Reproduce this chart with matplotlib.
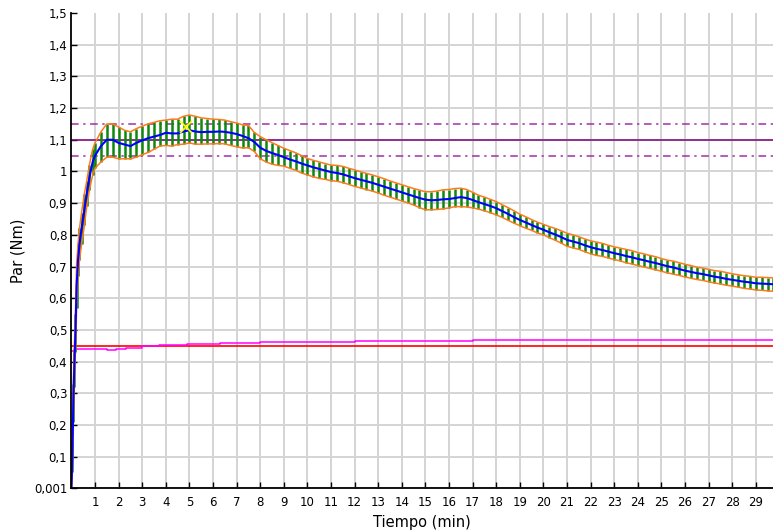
import matplotlib
matplotlib.use("Agg")
import matplotlib.pyplot as plt
import numpy as np

# ---------------- data ----------------
time_early = [0.0, 0.04, 0.08, 0.12, 0.17, 0.22, 0.28, 0.34, 0.43, 0.55, 0.65, 0.76, 0.90]
mean_early = [0.0, 0.10, 0.27, 0.38, 0.49, 0.64, 0.72, 0.77, 0.82, 0.88, 0.93, 0.98, 1.03]
hi_early = [0.0, 0.05, 0.06, 0.06, 0.06, 0.07, 0.05, 0.05, 0.05, 0.05, 0.04, 0.04, 0.04]
lo_early = [0.0, 0.05, 0.06, 0.06, 0.06, 0.07, 0.05, 0.05, 0.05, 0.05, 0.04, 0.04, 0.04]

time_main = [
    1.0, 1.25, 1.5, 1.75, 2.0, 2.25, 2.5, 2.75, 3.0, 3.25, 3.5, 3.75,
    4.0, 4.25, 4.5, 4.75, 5.0, 5.25, 5.5, 5.75, 6.0, 6.25, 6.5, 6.75,
    7.0, 7.25, 7.5, 7.75, 8.0, 8.25, 8.5, 8.75, 9.0, 9.25, 9.5, 9.75,
    10.0, 10.25, 10.5, 10.75, 11.0, 11.25, 11.5, 11.75, 12.0, 12.25, 12.5, 12.75,
    13.0, 13.25, 13.5, 13.75, 14.0, 14.25, 14.5, 14.75, 15.0, 15.25, 15.5, 15.75,
    16.0, 16.25, 16.5, 16.75, 17.0, 17.25, 17.5, 17.75, 18.0, 18.25, 18.5, 18.75,
    19.0, 19.25, 19.5, 19.75, 20.0, 20.25, 20.5, 20.75, 21.0, 21.25, 21.5, 21.75,
    22.0, 22.25, 22.5, 22.75, 23.0, 23.25, 23.5, 23.75, 24.0, 24.25, 24.5, 24.75,
    25.0, 25.25, 25.5, 25.75, 26.0, 26.25, 26.5, 26.75, 27.0, 27.25, 27.5, 27.75,
    28.0, 28.25, 28.5, 28.75, 29.0, 29.25, 29.5, 29.75,
]
mean_main = [
    1.050, 1.080, 1.100, 1.100,
    1.090, 1.085, 1.080, 1.090,
    1.098, 1.105, 1.110, 1.115,
    1.122, 1.120, 1.120, 1.126,
    1.130, 1.126, 1.124, 1.125,
    1.125, 1.126, 1.125, 1.122,
    1.118, 1.112, 1.105, 1.093,
    1.075, 1.065, 1.058, 1.052,
    1.045, 1.038, 1.032, 1.025,
    1.019, 1.013, 1.008, 1.003,
    0.998, 0.995, 0.991, 0.985,
    0.979, 0.974, 0.969, 0.964,
    0.958, 0.952, 0.946, 0.940,
    0.934, 0.928, 0.922, 0.916,
    0.911, 0.909, 0.910, 0.912,
    0.913, 0.916, 0.919, 0.916,
    0.910, 0.903, 0.897, 0.891,
    0.884, 0.875, 0.866, 0.856,
    0.847, 0.839, 0.831, 0.823,
    0.816, 0.808, 0.801, 0.793,
    0.784, 0.779, 0.774, 0.767,
    0.761, 0.756, 0.752, 0.747,
    0.742, 0.738, 0.733, 0.729,
    0.724, 0.720, 0.715, 0.711,
    0.706, 0.701, 0.697, 0.692,
    0.687, 0.683, 0.679, 0.676,
    0.672, 0.668, 0.665, 0.661,
    0.658, 0.655, 0.652, 0.650,
    0.647, 0.646, 0.645, 0.644,
]
hi_main = [
    0.040, 0.045, 0.050, 0.050,
    0.050, 0.045, 0.045, 0.045,
    0.045, 0.045, 0.045, 0.045,
    0.040, 0.045, 0.045, 0.048,
    0.048, 0.048, 0.045, 0.042,
    0.040, 0.038, 0.037, 0.035,
    0.035, 0.035, 0.040, 0.030,
    0.035, 0.035, 0.033, 0.030,
    0.028, 0.028, 0.027, 0.025,
    0.022, 0.022, 0.022, 0.022,
    0.022, 0.024, 0.025, 0.025,
    0.026, 0.025, 0.025, 0.025,
    0.025, 0.025, 0.024, 0.024,
    0.024, 0.024, 0.024, 0.025,
    0.025, 0.027, 0.028, 0.030,
    0.030, 0.030, 0.028, 0.027,
    0.024, 0.022, 0.022, 0.021,
    0.021, 0.020, 0.020, 0.020,
    0.018, 0.018, 0.017, 0.017,
    0.017, 0.018, 0.019, 0.020,
    0.021, 0.021, 0.020, 0.020,
    0.020, 0.021, 0.021, 0.020,
    0.020, 0.020, 0.021, 0.021,
    0.020, 0.020, 0.020, 0.020,
    0.019, 0.019, 0.020, 0.020,
    0.020, 0.020, 0.019, 0.019,
    0.019, 0.019, 0.020, 0.020,
    0.019, 0.019, 0.019, 0.019,
    0.019, 0.020, 0.020, 0.020,
]
lo_main = [
    0.040, 0.050, 0.055, 0.055,
    0.050, 0.045, 0.040, 0.045,
    0.045, 0.045, 0.040, 0.035,
    0.040, 0.040, 0.035, 0.040,
    0.040, 0.040, 0.038, 0.038,
    0.038, 0.038, 0.038, 0.040,
    0.040, 0.038, 0.030, 0.030,
    0.035, 0.035, 0.035, 0.033,
    0.028, 0.028, 0.028, 0.030,
    0.030, 0.030, 0.030, 0.028,
    0.027, 0.026, 0.026, 0.026,
    0.026, 0.026, 0.026, 0.026,
    0.026, 0.027, 0.027, 0.027,
    0.027, 0.027, 0.028, 0.030,
    0.032, 0.030, 0.030, 0.030,
    0.028, 0.027, 0.030, 0.028,
    0.025, 0.022, 0.021, 0.021,
    0.021, 0.020, 0.020, 0.019,
    0.018, 0.018, 0.017, 0.017,
    0.016, 0.017, 0.018, 0.019,
    0.020, 0.020, 0.020, 0.020,
    0.021, 0.021, 0.020, 0.020,
    0.020, 0.020, 0.021, 0.021,
    0.021, 0.021, 0.021, 0.021,
    0.021, 0.021, 0.021, 0.020,
    0.020, 0.020, 0.020, 0.020,
    0.020, 0.020, 0.020, 0.020,
    0.020, 0.020, 0.021, 0.021,
    0.021, 0.021, 0.022, 0.022,
]

# reference lines
target = 1.10
target_hi = 1.15
target_lo = 1.05
min_ref = 0.45

# magenta trace
mag_t = [0.0, 0.2, 0.9, 1.5, 1.9, 2.3, 3.0, 3.7, 4.9, 6.3, 8.0, 9.8, 12.0, 15.9, 17.0, 27.2, 27.5, 29.8]
mag_v = [0.432, 0.439, 0.441, 0.438, 0.441, 0.444, 0.448, 0.451, 0.455, 0.458, 0.462, 0.463,
         0.464, 0.466, 0.467, 0.467, 0.469, 0.469]

# marker point
peak_t = [4.86]
peak_v = [1.141]

x_ticks = list(range(1, 30))
y_ticks = [0.001, 0.1, 0.2, 0.3, 0.4, 0.5, 0.6, 0.7, 0.8, 0.9, 1.0, 1.1, 1.2, 1.3, 1.4, 1.5]
y_labels = ["0,001", "0,1", "0,2", "0,3", "0,4", "0,5", "0,6", "0,7", "0,8", "0,9",
            "1", "1,1", "1,2", "1,3", "1,4", "1,5"]

# ---------------- plot ----------------
t = np.array(time_early + time_main)
m = np.array(mean_early + mean_main)
hi = np.array(hi_early + hi_main)
lo = np.array(lo_early + lo_main)

fig = plt.figure(figsize=(7.73, 5.31), dpi=100)
ax = fig.add_axes([0.0924, 0.081, 0.9076, 0.8945])
ax.set_xlim(0, 29.73)
ax.set_ylim(0.001, 1.5)

ax.set_xticks(x_ticks)
ax.set_xticklabels([str(v) for v in x_ticks])
ax.set_yticks(y_ticks)
ax.set_yticklabels(y_labels)
ax.grid(True, color="#d4d4d4", linewidth=1.4, zorder=0)
ax.set_axisbelow(True)
ax.yaxis.get_gridlines()[-1].set_visible(False)

for s in ["top", "right"]:
    ax.spines[s].set_visible(False)
for s in ["left", "bottom"]:
    ax.spines[s].set_linewidth(1.3)
    ax.spines[s].set_zorder(10)

ax.tick_params(direction="in", length=4, width=1, labelsize=8.5, colors="black")
ax.tick_params(axis="x", pad=6)
ax.tick_params(axis="y", pad=3)

# reference lines
ax.axhline(target, color="#800080", linewidth=1.1, zorder=2)
ax.axhline(target_hi, color="#a030a8", linewidth=1.1, dashes=(5, 3, 1.5, 3), zorder=2)
ax.axhline(target_lo, color="#a030a8", linewidth=1.1, dashes=(5, 3, 1.5, 3), zorder=2)
ax.axhline(min_ref, color="#ff0000", linewidth=1.2, zorder=3)
ax.plot(mag_t, mag_v, color="#ff00ff", linewidth=1.1, drawstyle="steps-post", zorder=3)

# error bars and envelope
ax.vlines(t, m - lo, m + hi, color="#0f870f", linewidth=1.8, zorder=4)
ax.plot(t, m + hi, color="#ff7a1a", linewidth=1.1, zorder=5)
ax.plot(t, m - lo, color="#ff7a1a", linewidth=1.1, zorder=5)
ax.plot(t, m, color="#0000ff", linewidth=1.5, zorder=6)
ax.plot(peak_t, peak_v, linestyle="none", marker="x", markersize=9, markeredgewidth=1.2,
        color="#ffff00", zorder=7)

ax.set_xlabel("Tiempo (min)", fontsize=10.5, labelpad=4)
ax.set_ylabel("Par (Nm)", fontsize=10.5, labelpad=6)

fig.savefig("out.png", dpi=100)
